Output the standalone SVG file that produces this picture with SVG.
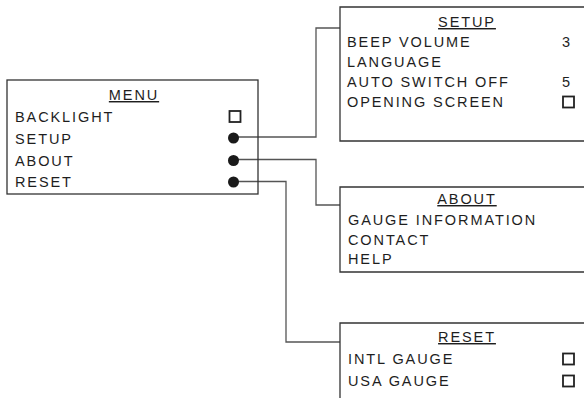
<svg xmlns="http://www.w3.org/2000/svg" width="584" height="398" viewBox="0 0 584 398">
<style>
text{font-family:"Liberation Sans",Arial,sans-serif;font-size:14.5px;letter-spacing:1.9px;fill:#1e1e1e}
.t{text-anchor:middle;text-decoration:underline}
.box{fill:none;stroke:#333;stroke-width:1.3}
.cb{fill:none;stroke:#222;stroke-width:1.8}
.dot{fill:#1a1a1a}
.conn{fill:none;stroke:#555;stroke-width:1.3}
</style>
<rect width="584" height="398" fill="#fff"/>
<g id="connectors">
<polyline class="conn" points="238,137 316,137 316,28 340,28"/>
<polyline class="conn" points="238,159.5 316,159.5 316,205 340,205"/>
<polyline class="conn" points="238,181.5 286,181.5 286,342 340,342"/>
</g>
<g id="menu">
<rect class="box" x="7" y="80" width="251" height="114"/>
<text class="t" x="134" y="100">MENU</text>
<text x="15" y="122">BACKLIGHT</text>
<text x="15" y="144">SETUP</text>
<text x="15" y="166">ABOUT</text>
<text x="15" y="187">RESET</text>
<rect class="cb" x="229.5" y="111" width="11" height="11"/>
<circle class="dot" cx="233.5" cy="138" r="5.5"/>
<circle class="dot" cx="233.5" cy="160.5" r="5.5"/>
<circle class="dot" cx="233.5" cy="182" r="5.5"/>
</g>
<g id="setup">
<path class="box" d="M590,7 H340 V141 H590"/>
<text class="t" x="467" y="27">SETUP</text>
<text x="347" y="47">BEEP VOLUME</text>
<text x="347" y="67">LANGUAGE</text>
<text x="347" y="87">AUTO SWITCH OFF</text>
<text x="347" y="107">OPENING SCREEN</text>
<text x="562" y="47">3</text>
<text x="562" y="87">5</text>
<rect class="cb" x="563" y="96.5" width="11" height="11"/>
</g>
<g id="about">
<path class="box" d="M590,187 H340 V272 H590"/>
<text class="t" x="467" y="204">ABOUT</text>
<text x="348" y="225">GAUGE INFORMATION</text>
<text x="348" y="245">CONTACT</text>
<text x="348" y="264">HELP</text>
</g>
<g id="reset">
<path class="box" d="M590,323 H340 V400"/>
<text class="t" x="467" y="342">RESET</text>
<text x="348" y="364">INTL GAUGE</text>
<text x="348" y="386">USA GAUGE</text>
<rect class="cb" x="563" y="353.5" width="11" height="11"/>
<rect class="cb" x="563" y="375.5" width="11" height="11"/>
</g>
</svg>
